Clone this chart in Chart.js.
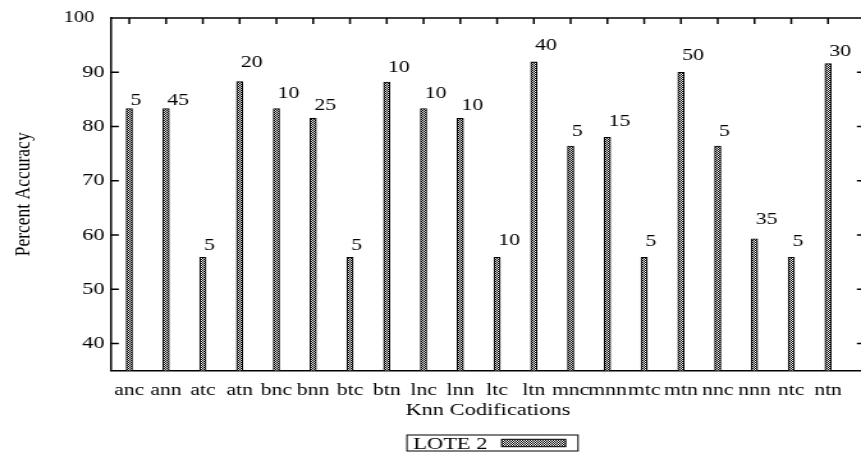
<!DOCTYPE html>
<html>
<head>
<meta charset="utf-8">
<script src="https://cdn.jsdelivr.net/npm/chart.js@4.4.1/dist/chart.umd.min.js"></script>
<style>
  html, body { margin: 0; padding: 0; background: #fff; overflow: hidden; }
  /* the reference is stretched sideways, so the chart is drawn narrow and widened */
  #wrap { width: 676px; height: 456px; transform: scaleX(1.27935); transform-origin: 0 0; }
</style>
</head>
<body>
<div id="wrap"><canvas id="accChart"></canvas></div>
<script>
// Data
var codifications = ['anc', 'ann', 'atc', 'atn', 'bnc', 'bnn', 'btc', 'btn', 'lnc', 'lnn',
                     'ltc', 'ltn', 'mnc', 'mnn', 'mtc', 'mtn', 'nnc', 'nnn', 'ntc', 'ntn'];
var accuracy = [83.3, 83.3, 55.9, 88.3, 83.3, 81.5, 55.9, 88.2, 83.3, 81.5,
                55.9, 91.9, 76.4, 78.0, 55.9, 90.0, 76.4, 59.3, 55.9, 91.6];
var kValues = ['5', '45', '5', '20', '10', '25', '5', '10', '10', '10',
               '10', '40', '5', '15', '5', '50', '5', '35', '5', '30'];
var kLabelAt = [84.8, 84.8, 58.0, 91.8, 86.0, 83.9, 58.0, 90.9, 86.0, 83.9,
                58.9, 95.0, 79.0, 81.0, 58.8, 93.0, 79.0, 62.9, 58.8, 93.9];
var yTicks = [40, 50, 60, 70, 80, 90, 100];
var seriesName = 'LOTE 2';

var serif = '"Liberation Serif", "Times New Roman", serif';
var canvas = document.getElementById('accChart');

// fine checker fill, close to the gnuplot crosshatch at this size
function makeHatch() {
    var c = document.createElement('canvas');
    c.width = 2;
    c.height = 2;
    var g = c.getContext('2d');
    g.fillStyle = '#fff';
    g.fillRect(0, 0, 2, 2);
    g.fillStyle = '#000';
    g.fillRect(0, 0, 1, 1);
    g.fillRect(1, 1, 1, 1);
    return canvas.getContext('2d').createPattern(c, 'repeat');
}
var hatch = makeHatch();

// top/right border and the inward tick marks
var framePlugin = {
    id: 'frame',
    afterDatasetsDraw: function(chart) {
        var ctx = chart.ctx, a = chart.chartArea;
        var xs = chart.scales.x, ys = chart.scales.y;
        ctx.save();
        ctx.strokeStyle = '#000';
        ctx.lineWidth = 1.5;
        ctx.beginPath();
        ctx.moveTo(a.left, a.top);
        ctx.lineTo(a.right, a.top);
        ctx.lineTo(a.right, a.bottom);
        codifications.forEach(function(_, i) {
            var px = xs.getPixelForValue(i);
            ctx.moveTo(px, a.top);
            ctx.lineTo(px, a.top + 6);
        });
        yTicks.forEach(function(v) {
            var py = ys.getPixelForValue(v);
            ctx.moveTo(a.left, py);
            ctx.lineTo(a.left + 6.2, py);
            ctx.moveTo(a.right, py);
            ctx.lineTo(a.right - 6.2, py);
        });
        ctx.stroke();

        // k labels above the bars
        ctx.fillStyle = '#000';
        ctx.font = '17px ' + serif;
        ctx.textAlign = 'left';
        ctx.textBaseline = 'middle';
        kValues.forEach(function(t, i) {
            ctx.fillText(t, xs.getPixelForValue(i) + 1, ys.getPixelForValue(kLabelAt[i]));
        });
        ctx.restore();
    }
};

// boxed key under the axis title, text first then the sample
var keyPlugin = {
    id: 'key',
    afterDraw: function(chart) {
        var ctx = chart.ctx, a = chart.chartArea;
        var boxW = 133.7;
        var left = (a.left + a.right) / 2 + 3.6 - boxW / 2;
        ctx.save();
        ctx.strokeStyle = '#000';
        ctx.lineWidth = 1;
        ctx.strokeRect(left, 435, boxW, 16);
        ctx.fillStyle = '#000';
        ctx.font = '17.5px ' + serif;
        ctx.textAlign = 'left';
        ctx.textBaseline = 'alphabetic';
        ctx.fillText(seriesName, left + 5, 449.3);
        ctx.fillStyle = hatch;
        ctx.fillRect(left + 74, 439.3, 50, 7.4);
        ctx.strokeRect(left + 74, 439.3, 50, 7.4);
        ctx.restore();
    }
};

var chart = new Chart(canvas, {
    type: 'bar',
    data: {
        datasets: [{
            label: seriesName,
            data: accuracy.map(function(v, i) { return {x: i, y: v}; }),
            backgroundColor: hatch,
            borderColor: '#000',
            borderWidth: 1.1,
            borderSkipped: false,
            barThickness: 4.9
        }]
    },
    options: {
        responsive: true,
        maintainAspectRatio: false,
        animation: false,
        layout: { padding: { top: 18, right: 0, bottom: 35.4, left: 0 } },
        plugins: {
            legend: { display: false },
            tooltip: { enabled: false }
        },
        scales: {
            x: {
                type: 'linear',
                min: -0.5,
                max: 20,
                offset: false,
                grid: { display: false, drawTicks: false },
                border: { display: true, color: '#000', width: 1.5 },
                afterBuildTicks: function(scale) {
                    scale.ticks = codifications.map(function(_, i) { return {value: i}; });
                },
                afterFit: function(scale) { scale.height = 50; },
                ticks: {
                    autoSkip: false,
                    maxRotation: 0,
                    minRotation: 0,
                    padding: 10,
                    color: '#000',
                    font: { family: serif, size: 17 },
                    callback: function(value) { return codifications[Math.round(value)] || ''; }
                },
                title: {
                    display: true,
                    text: 'Knn Codifications',
                    color: '#000',
                    padding: 0,
                    font: { family: serif, size: 17.5 }
                }
            },
            y: {
                min: 35,
                max: 100,
                grid: { display: false, drawTicks: false },
                border: { display: true, color: '#000', width: 1.5 },
                afterBuildTicks: function(scale) {
                    scale.ticks = yTicks.map(function(v) { return {value: v}; });
                },
                afterFit: function(scale) { scale.width = 86.7; },
                ticks: {
                    padding: 5,
                    color: '#000',
                    font: function(ctx) {
                        var top = ctx.tick && ctx.tick.value === 100;
                        return { family: serif, size: top ? 16 : 17.5 };
                    },
                    callback: function(value) { return value === 100 ? '100  ' : String(value); }
                },
                title: {
                    display: true,
                    text: 'Percent Accuracy',
                    color: '#000',
                    padding: { top: 8, bottom: 0 },
                    font: { family: serif, size: 17.5 }
                }
            }
        }
    },
    plugins: [framePlugin, keyPlugin]
});
</script>
</body>
</html>
